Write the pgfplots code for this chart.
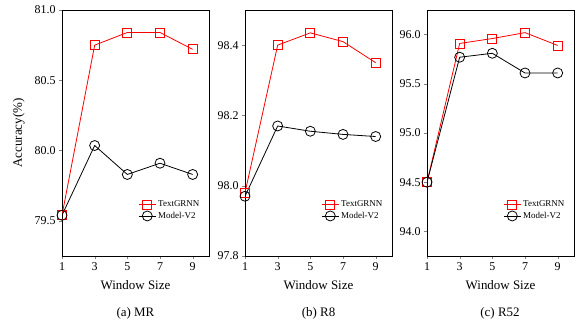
\documentclass[border=0pt]{standalone}
\usepackage{fontspec}
\setmainfont{Liberation Serif}
\usepackage{pgfplots}
\pgfplotsset{compat=1.18}
\pgfplotsset{
  panel/.style={
    scale only axis, width=147bp, height=246bp,
    anchor=south west,
    xmin=1, xmax=10,
    xtick={1,3,5,7,9},
    tick align=outside, tick pos=left,
    major tick length=3bp,
    /pgf/number format/assume math mode=true,
    /pgf/number format/fixed, /pgf/number format/fixed zerofill,
    /pgf/number format/precision=1,
    xticklabel style={/pgf/number format/precision=0,/pgf/number format/fixed zerofill=false},
    tick label style={font=\fontsize{12}{14}\selectfont},
    label style={font=\fontsize{13}{15}\selectfont},
    xlabel={Window Size},
    xlabel style={yshift=-3bp},
    axis line style={line width=0.8pt},
    legend style={draw=none, fill=none, font=\fontsize{9}{10}\selectfont,
      at={(0.97,0.13)}, anchor=south east, row sep=0pt},
    legend cell align=left,
  },
  grnn/.style={red, line width=0.8pt, mark=square, mark size=4.5bp, mark options={solid,fill=none}},
  mv/.style={black, line width=0.8pt, mark=o, mark size=5bp, mark options={solid,fill=none}},
}
\begin{document}
\begin{tikzpicture}
\useasboundingbox (0bp,0bp) rectangle (576bp,322bp);
% (a) MR
\begin{axis}[panel, at={(62bp,66bp)}, ymin=79.25, ymax=81.0, ytick={79.5,80.0,80.5,81.0},
  ylabel={Accuracy(\%)}, ylabel style={yshift=3bp}]
\addplot[grnn] coordinates {(1,79.54) (3,80.75) (5,80.84) (7,80.84) (9,80.72)};
\addplot[mv] coordinates {(1,79.54) (3,80.036) (5,79.83) (7,79.91) (9,79.83)};
\legend{TextGRNN, Model-V2}
\end{axis}
\node[font=\fontsize{13}{15}\selectfont] at (135.5bp,9bp) {(a) MR};
% (b) R8
\begin{axis}[panel, at={(245bp,66bp)}, ymin=97.8, ymax=98.5, ytick={97.8,98.0,98.2,98.4}]
\addplot[grnn] coordinates {(1,97.98) (3,98.40) (5,98.435) (7,98.41) (9,98.35)};
\addplot[mv] coordinates {(1,97.97) (3,98.17) (5,98.155) (7,98.146) (9,98.14)};
\legend{TextGRNN, Model-V2}
\end{axis}
\node[font=\fontsize{13}{15}\selectfont] at (318.5bp,9bp) {(b) R8};
% (c) R52
\begin{axis}[panel, at={(427bp,66bp)}, ymin=93.75, ymax=96.25, ytick={94.0,94.5,95.0,95.5,96.0}]
\addplot[grnn] coordinates {(1,94.5) (3,95.91) (5,95.96) (7,96.02) (9,95.89)};
\addplot[mv] coordinates {(1,94.5) (3,95.77) (5,95.81) (7,95.61) (9,95.61)};
\legend{TextGRNN, Model-V2}
\end{axis}
\node[font=\fontsize{13}{15}\selectfont] at (500bp,9bp) {(c) R52};
\end{tikzpicture}
\end{document}
